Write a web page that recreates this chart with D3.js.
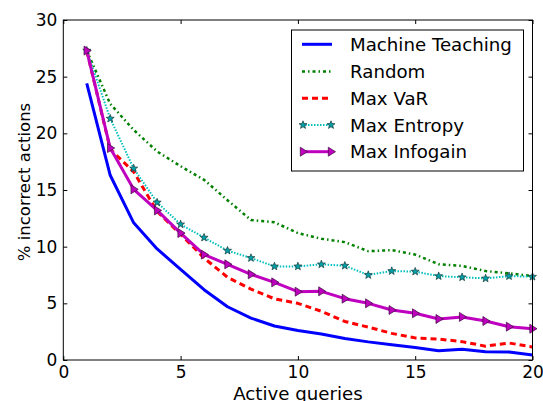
<!DOCTYPE html>
<html><head><meta charset="utf-8">
<script src="https://cdn.jsdelivr.net/npm/d3@7"></script>
<style>body{margin:0;background:#fff}svg{display:block}text{font-family:"DejaVu Sans",sans-serif;fill:#000}</style>
</head><body><svg id="c" width="543" height="401"></svg>
<script>
const queries = d3.range(1, 21);
const machineTeaching = [24.4,16.3,12.1,9.8,8.0,6.2,4.7,3.7,3.0,2.6,2.3,1.9,1.6,1.35,1.1,0.82,0.94,0.73,0.7,0.45];
const randomQ = [27.3,22.6,20.3,18.4,17.1,15.9,14.1,12.35,12.15,11.2,10.7,10.4,9.6,9.7,9.3,8.45,8.3,7.85,7.65,7.4];
const maxVaR = [27.3,18.6,16.6,13.1,11.1,9.0,7.3,6.25,5.4,5.0,4.3,3.4,2.9,2.35,1.95,1.85,1.62,1.22,1.5,1.15];
const maxEntropy = [27.3,21.3,16.9,13.9,11.97,10.8,9.65,9.0,8.26,8.26,8.44,8.32,7.5,7.85,7.8,7.4,7.3,7.2,7.4,7.35];
const maxInfogain = [27.3,18.7,15.06,13.2,11.2,9.3,8.44,7.56,6.85,6.03,6.06,5.41,5.0,4.41,4.12,3.62,3.8,3.44,2.94,2.76];
const seriesNames = ["Machine Teaching","Random","Max VaR","Max Entropy","Max Infogain"];
const xTicks = [0,5,10,15,20];
const yTicks = [0,5,10,15,20,25,30];

const styles = [
  {color:"#0000ff", width:3, dash:null, marker:null},
  {color:"#008000", width:2.5, dash:"3,3,1.5,3", marker:null},
  {color:"#ff0000", width:3, dash:"6,4", marker:null},
  {color:"#00bfbf", width:2, dash:"1.5,1.5", marker:"star"},
  {color:"#bf00bf", width:3, dash:null, marker:"tri"}
];
const data = [machineTeaching, randomQ, maxVaR, maxEntropy, maxInfogain];

const svg = d3.select("#c");
const L=63.3, R=532.5, T=20, B=360;
const x = d3.scaleLinear().domain([0,20]).range([L,R]);
const y = d3.scaleLinear().domain([0,30]).range([B,T]);

const defs = svg.append("defs");
defs.append("clipPath").attr("id","clip").append("rect").attr("x",L).attr("y",T).attr("width",R-L).attr("height",B-T);

function starPath(r){
  const pts=[];
  for(let i=0;i<10;i++){
    const a = -Math.PI/2 + i*Math.PI/5;
    const rr = i%2===0 ? r : r*0.42;
    pts.push([rr*Math.cos(a), rr*Math.sin(a)]);
  }
  return "M"+pts.map(p=>p.join(",")).join("L")+"Z";
}
function triPath(r){
  return `M${r},0L${-r*0.6},${-r}L${-r*0.6},${r}Z`;
}
function drawMarker(g, type, cx, cy, color){
  if(type==="star"){
    g.append("path").attr("d",starPath(4.2)).attr("transform",`translate(${cx},${cy})`)
      .attr("fill","#00a0a8").attr("stroke","#1a3a3a").attr("stroke-width",0.7);
  } else if(type==="tri"){
    g.append("path").attr("d",triPath(4.5)).attr("transform",`translate(${cx},${cy})`)
      .attr("fill",color).attr("stroke","#3a0a3a").attr("stroke-width",0.7);
  }
}

const plot = svg.append("g").attr("clip-path","url(#clip)");
const line = d3.line().x((d,i)=>x(queries[i])).y(d=>y(d));
data.forEach((vals,k)=>{
  const s = styles[k];
  plot.append("path").datum(vals).attr("d",line).attr("fill","none")
    .attr("stroke",s.color).attr("stroke-width",s.width)
    .attr("stroke-dasharray",s.dash).attr("stroke-linejoin","round");
  if(s.marker){
    const mg = svg.append("g");
    vals.forEach((v,i)=>drawMarker(mg,s.marker,x(queries[i]),y(v),s.color));
  }
});

// frame
svg.append("rect").attr("x",L).attr("y",T).attr("width",R-L).attr("height",B-T)
  .attr("fill","none").attr("stroke","#000").attr("stroke-width",1);

// axes with inward ticks
const xb = svg.append("g").attr("transform",`translate(0,${B})`)
  .call(d3.axisBottom(x).tickValues(xTicks).tickSize(-4).tickPadding(5.5).tickFormat(d3.format("d")));
const xt = svg.append("g").attr("transform",`translate(0,${T})`)
  .call(d3.axisTop(x).tickValues(xTicks).tickSize(-4).tickFormat(""));
const yl = svg.append("g").attr("transform",`translate(${L},0)`)
  .call(d3.axisLeft(y).tickValues(yTicks).tickSize(-4).tickPadding(6).tickFormat(d3.format("d")));
const yr = svg.append("g").attr("transform",`translate(${R},0)`)
  .call(d3.axisRight(y).tickValues(yTicks).tickSize(-4).tickFormat(""));
[xb,xt,yl,yr].forEach(g=>{g.select(".domain").remove(); g.selectAll("line").attr("stroke","#000");});
svg.selectAll(".tick text").style("font-size","17px").style("font-family","DejaVu Sans");

svg.append("text").attr("x",(L+R)/2).attr("y",400).attr("text-anchor","middle")
  .style("font-size","18.2px").text("Active queries");
svg.append("text").attr("transform",`translate(30,182) rotate(-90)`).attr("text-anchor","middle")
  .style("font-size","16.5px").text("% incorrect actions");

// legend
const lg = svg.append("g");
lg.append("rect").attr("x",291.5).attr("y",30).attr("width",232).attr("height",141)
  .attr("fill","#fff").attr("stroke","#000").attr("stroke-width",1);
const rowY = [44.3,71.5,98.3,125,151.7];
seriesNames.forEach((name,k)=>{
  const s = styles[k];
  lg.append("line").attr("x1",302).attr("x2",332).attr("y1",rowY[k]).attr("y2",rowY[k])
    .attr("stroke",s.color).attr("stroke-width",s.width).attr("stroke-dasharray",s.dash);
  if(s.marker){ drawMarker(lg,s.marker,303,rowY[k],s.color); drawMarker(lg,s.marker,331,rowY[k],s.color); }
  lg.append("text").attr("x",350).attr("y",rowY[k]).attr("dy","0.36em")
    .style("font-size","18.2px").text(name);
});
</script></body></html>
